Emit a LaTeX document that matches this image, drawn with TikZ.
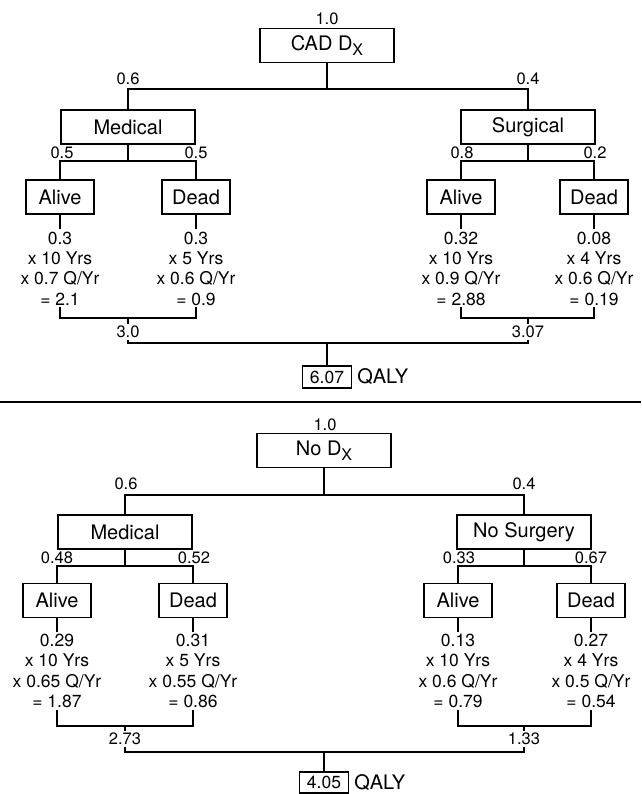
\documentclass[tikz,border=0pt]{standalone}
\usepackage{fontspec}
\setmainfont{TeX Gyre Heros}
\usetikzlibrary{positioning}

\newcommand{\dxsub}{D\raisebox{-0.5ex}{\fontsize{16}{16}\selectfont X}}

\begin{document}
\begin{tikzpicture}[
					x=1pt, y=-1pt,
					decbox/.style={draw, line width=1.1pt, minimum width=134pt, minimum height=34pt, inner sep=0pt, font=\fontsize{20}{22}\selectfont},
					leafbox/.style={decbox, minimum width=68pt},
					probtext/.style={inner sep=1pt, font=\fontsize{16.5}{20}\selectfont},
					yieldtext/.style={align=center, anchor=north, inner sep=2pt, font=\fontsize{17.5}{20.3}\selectfont},
					subtotal/.style={probtext, inner sep=2pt},
					qalybox/.style={draw, line width=1.1pt, minimum width=49pt, minimum height=22pt, inner sep=0pt, font=\fontsize{17.5}{20}\selectfont},
					qalytext/.style={inner sep=2pt, font=\fontsize{20}{22}\selectfont},
					link/.style={line width=1.8pt}
					]
					\useasboundingbox (0,0) rectangle (641,794);
					
					% ===== TOP TREE: ROOT =====
					\node[probtext] (p1) at (327,19) {1.0};
					\node[decbox] (cad) at (327,45.5) {CAD \dxsub};
					\coordinate (j1) at (327,89);
					
					% ===== TOP TREE: LEVEL 1 =====
					\node[probtext] (p1a) at (128,79) {0.6};
					\node[probtext] (p1b) at (528,79) {0.4};
					\node[decbox] (med) at (128,127) {Medical};
					\node[decbox] (surg) at (528,127) {Surgical};
					\coordinate (jm) at (128,161);
					\coordinate (js) at (528,161);
					
					% ===== TOP TREE: LEAVES =====
					\node[probtext] (pmA) at (62,152.5) {0.5};
					\node[probtext] (pmD) at (196,152.5) {0.5};
					\node[probtext] (psA) at (462,152.5) {0.8};
					\node[probtext] (psD) at (595,152.5) {0.2};
					\node[leafbox] (mA) at (60,197) {Alive};
					\node[leafbox] (mD) at (196,197) {Dead};
					\node[leafbox] (sA) at (461,197) {Alive};
					\node[leafbox] (sD) at (594,197) {Dead};
					
					% ===== TOP TREE: YIELDS =====
					\node[yieldtext] (ymA) at (60,229.5) {0.3\\x 10 Yrs\\x 0.7 Q/Yr\\= 2.1};
					\node[yieldtext] (ymD) at (196,229.5) {0.3\\x 5 Yrs\\x 0.6 Q/Yr\\= 0.9};
					\node[yieldtext] (ysA) at (461,229.5) {0.32\\x 10 Yrs\\x 0.9 Q/Yr\\= 2.88};
					\node[yieldtext] (ysD) at (594,229.5) {0.08\\x 4 Yrs\\x 0.6 Q/Yr\\= 0.19};
					\coordinate (km) at (128,318);
					\coordinate (ks) at (528,318);
					\node[subtotal] (sm) at (128,332) {3.0};
					\node[subtotal] (ss) at (528,332) {3.07};
					\coordinate (t1) at (327,343);
					\node[qalybox] (tot1) at (327,377) {6.07};
					\node[qalytext, right=3pt of tot1] (q1) {QALY};
					
					% ===== TOP TREE: LINES =====
					\draw[link] (cad) -- (j1);
					\draw[link] (med) |- (j1) -| (surg);
					\draw[link] (med) -- (jm);
					\draw[link] (mA) |- (jm) -| (mD);
					\draw[link] (surg) -- (js);
					\draw[link] (sA) |- (js) -| (sD);
					\draw[link] (mA) -- (ymA);
					\draw[link] (mD) -- (ymD);
					\draw[link] (sA) -- (ysA);
					\draw[link] (sD) -- (ysD);
					\draw[link] (ymA) |- (km) -| (ymD);
					\draw[link] (ysA) |- (ks) -| (ysD);
					\draw[link] (km) -- (sm);
					\draw[link] (ks) -- (ss);
					\draw[link] (sm) |- (t1) -| (ss);
					\draw[link] (t1) -- (tot1);
					
					% ===== SEPARATOR =====
					\draw[line width=1.8pt] (0,402) -- (641,402);
					
					% ===== BOTTOM TREE: ROOT =====
					\node[probtext] (p2) at (325,425) {1.0};
					\node[decbox] (nodx) at (324,450.5) {No \dxsub};
					\coordinate (j2) at (324,495);
					
					% ===== BOTTOM TREE: LEVEL 1 =====
					\node[probtext] (p2a) at (126,484) {0.6};
					\node[probtext] (p2b) at (524,484) {0.4};
					\node[decbox] (med2) at (125,532) {Medical};
					\node[decbox] (nosurg) at (524,532) {No Surgery};
					\coordinate (jm2) at (125,566);
					\coordinate (jn) at (524,566);
					
					% ===== BOTTOM TREE: LEAVES =====
					\node[probtext] (pm2A) at (57,557.5) {0.48};
					\node[probtext] (pm2D) at (194,557.5) {0.52};
					\node[probtext] (pnA) at (459,557.5) {0.33};
					\node[probtext] (pnD) at (591,557.5) {0.67};
					\node[leafbox] (m2A) at (57,600.5) {Alive};
					\node[leafbox] (m2D) at (193,600.5) {Dead};
					\node[leafbox] (nA) at (458,600.5) {Alive};
					\node[leafbox] (nD) at (591,600.5) {Dead};
					
					% ===== BOTTOM TREE: YIELDS =====
					\node[yieldtext] (ym2A) at (57,632) {0.29\\x 10 Yrs\\x 0.65 Q/Yr\\= 1.87};
					\node[yieldtext] (ym2D) at (193,632) {0.31\\x 5 Yrs\\x 0.55 Q/Yr\\= 0.86};
					\node[yieldtext] (ynA) at (458,632) {0.13\\x 10 Yrs\\x 0.6 Q/Yr\\= 0.79};
					\node[yieldtext] (ynD) at (591,632) {0.27\\x 4 Yrs\\x 0.5 Q/Yr\\= 0.54};
					\coordinate (km2) at (125,726);
					\coordinate (kn) at (524,726);
					\node[subtotal] (sm2) at (125,739) {2.73};
					\node[subtotal] (sn) at (524,739) {1.33};
					\coordinate (t2) at (324,752);
					\node[qalybox, minimum height=21pt] (tot2) at (324,782.5) {4.05};
					\node[qalytext, right=3pt of tot2] (q2) {QALY};
					
					% ===== BOTTOM TREE: LINES =====
					\draw[link] (nodx) -- (j2);
					\draw[link] (med2) |- (j2) -| (nosurg);
					\draw[link] (med2) -- (jm2);
					\draw[link] (m2A) |- (jm2) -| (m2D);
					\draw[link] (nosurg) -- (jn);
					\draw[link] (nA) |- (jn) -| (nD);
					\draw[link] (m2A) -- (ym2A);
					\draw[link] (m2D) -- (ym2D);
					\draw[link] (nA) -- (ynA);
					\draw[link] (nD) -- (ynD);
					\draw[link] (ym2A) |- (km2) -| (ym2D);
					\draw[link] (ynA) |- (kn) -| (ynD);
					\draw[link] (km2) -- (sm2);
					\draw[link] (kn) -- (sn);
					\draw[link] (sm2) |- (t2) -| (sn);
					\draw[link] (t2) -- (tot2);
				\end{tikzpicture}
\end{document}
